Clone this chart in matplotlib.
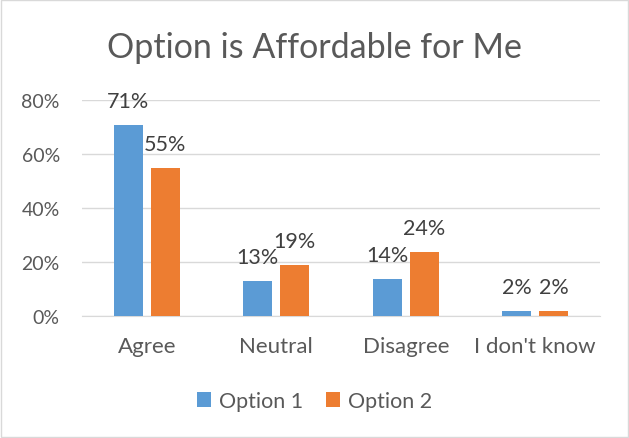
import matplotlib.pyplot as plt
import numpy as np

plt.rcParams['font.family'] = ['Lato', 'DejaVu Sans']

categories = ["Agree", "Neutral", "Disagree", "I don't know"]
option1 = [0.71, 0.13, 0.14, 0.02]
option2 = [0.55, 0.19, 0.24, 0.02]
yticks = [0, 0.2, 0.4, 0.6, 0.8]

blue = '#5B9BD5'
orange = '#ED7D31'
txt = '#595959'

fig = plt.figure(figsize=(6.29, 4.39), dpi=100)
ax = fig.add_axes([0.1304, 0.2768, 0.8235, 0.492])

x = np.arange(len(categories))
w = 0.224
off = 0.143
b1 = ax.bar(x - off, option1, w, color=blue, label='Option 1', zorder=3)
b2 = ax.bar(x + off, option2, w, color=orange, label='Option 2', zorder=3)

for bars, vals in [(b1, option1), (b2, option2)]:
    for b, v in zip(bars, vals):
        ax.annotate("{:.0%}".format(v), (b.get_x() + b.get_width() / 2, v),
                    xytext=(0, 13), textcoords='offset points',
                    ha='center', va='baseline', fontsize=15.5, color='#404040')

ax.set_xlim(-0.5, 3.5)
ax.set_ylim(0, 0.8)
ax.set_yticks(yticks)
ax.set_yticklabels(["{:.0%}".format(t) for t in yticks])
ax.set_xticks(x)
ax.set_xticklabels(categories)
ax.tick_params(length=0, colors=txt)
ax.tick_params(axis='x', pad=14, labelsize=16)
ax.tick_params(axis='y', pad=16, labelsize=14)
ax.yaxis.grid(True, color='#D9D9D9', linewidth=1, zorder=0)
for s in ['top', 'right', 'left']:
    ax.spines[s].set_visible(False)
ax.spines['bottom'].set_color('#D9D9D9')

fig.text(0.5, 0.89, "Option is Affordable for Me", ha='center', va='center',
         fontsize=24.5, color=txt)

fig.legend(handles=[b1, b2], loc='center', bbox_to_anchor=(0.5, 0.084), ncol=2,
           frameon=False, fontsize=15.5, labelcolor=txt, handlelength=0.65,
           handleheight=0.65, columnspacing=1.1, handletextpad=0.35)

fig.patches.append(plt.Rectangle((0.002, 0.002), 0.996, 0.996, transform=fig.transFigure,
                                 fill=False, edgecolor='#D9D9D9', linewidth=1))

fig.savefig('out.png', dpi=100)
